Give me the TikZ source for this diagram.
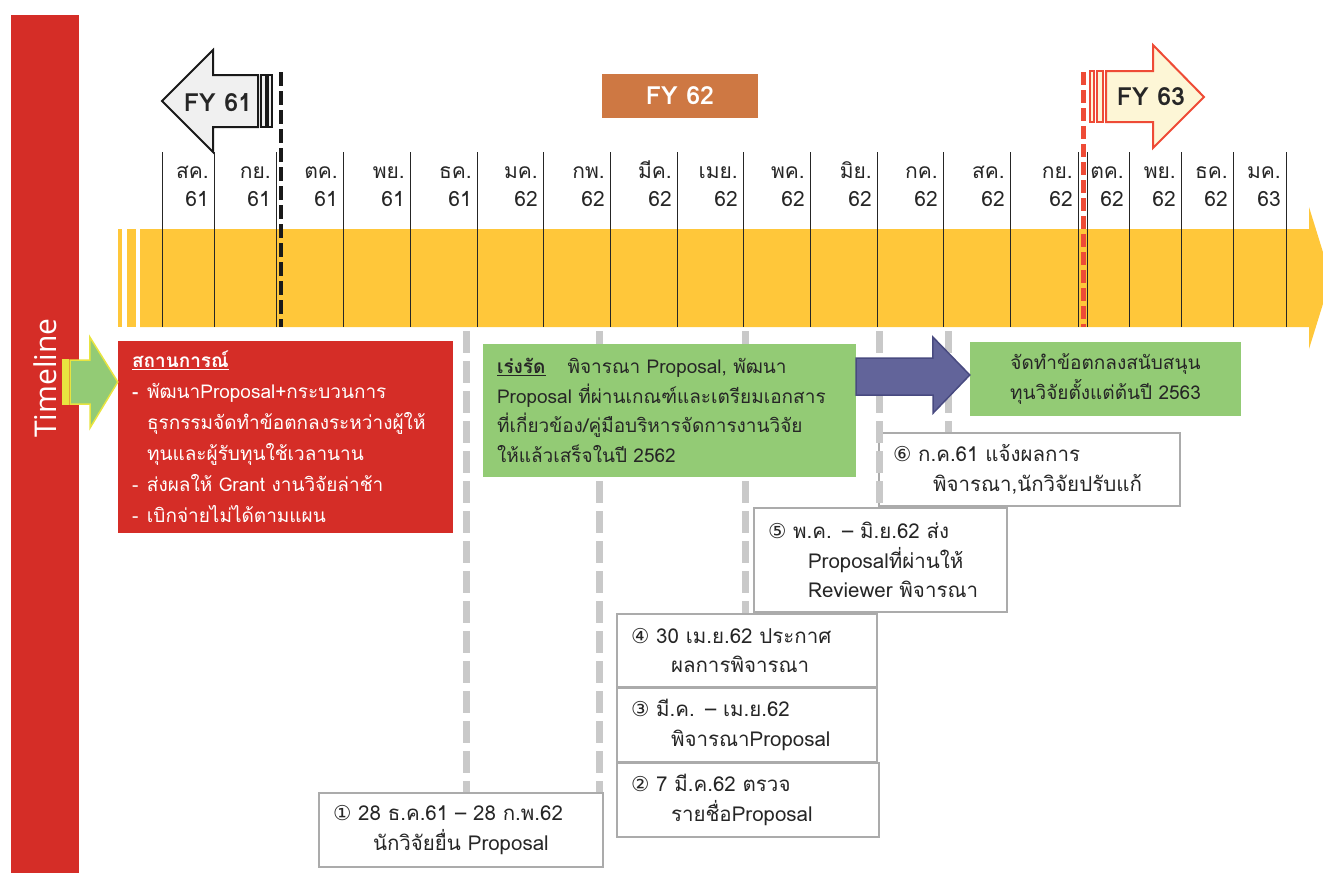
\documentclass[tikz,border=0pt]{standalone}
\usepackage{fontspec}
\usepackage{xcolor}
\usepackage{tikz}
\setmainfont[Script=Thai]{Loma}
\newfontfamily\cnumfont{DejaVu Sans}
\newfontfamily\tlfont{Open Sans}
\definecolor{sidered}{RGB}{213,45,39}
\definecolor{bandyellow}{RGB}{255,199,58}
\definecolor{leafgreen}{RGB}{147,203,117}
\definecolor{fyorange}{RGB}{206,120,67}
\definecolor{arrowblue}{RGB}{98,100,154}
\definecolor{arrowedge}{RGB}{72,74,128}
\definecolor{dashgray}{RGB}{201,201,201}
\definecolor{boxgray}{RGB}{171,171,171}
\definecolor{inkgray}{RGB}{38,38,38}
\definecolor{fyred}{RGB}{238,75,54}
\definecolor{fycream}{RGB}{253,246,214}
\definecolor{fylight}{RGB}{240,240,240}
\definecolor{tipyellow}{RGB}{232,228,64}

\begin{document}
\begin{tikzpicture}[x=1pt, y=-1pt,
  every node/.style={font=\fontsize{19}{29.5}\selectfont, text=inkgray},
  numbox/.style={draw=boxgray, line width=1.3pt, fill=white, align=left, inner xsep=14pt, minimum height=74pt,
                 font=\fontsize{20.5}{29.5}\selectfont},
  greenbox/.style={fill=leafgreen, inner xsep=14pt},
  gdash/.style={draw=dashgray, line width=7pt, dash pattern=on 22pt off 8pt},
  fylabel/.style={font=\bfseries\fontsize{25}{25}\selectfont}]
  \useasboundingbox (0,0) rectangle (1323,873);

  % Timeline side bar
  \fill[sidered] (11,15) rectangle (79,873);
  \node[rotate=90, text=white, font=\tlfont\fontsize{30}{30}\selectfont] (tl) at (45,378) {Timeline};

  % Yellow time band
  \fill[bandyellow] (118,229) rectangle (122,327);
  \fill[bandyellow] (127,229) rectangle (136,327);
  \fill[bandyellow] (140,229) -- (1309,229) -- (1309,207) -- (1331,278) -- (1309,349) -- (1309,327) -- (140,327) -- cycle;

  % Months
  \foreach \mx in {162,214,276,343,410,477,543,610,677,743,810,877,943,1010,1078,1087,1129,1181,1233,1286}
    \draw[black!85, line width=0.9pt] (\mx,152) -- (\mx,327);
  \foreach \mx/\mn/\yr [count=\i] in {214/สค./61, 276/กย./61, 343/ตค./61, 410/พย./61, 477/ธค./61,
      543/มค./62, 610/กพ./62, 677/มีค./62, 743/เมย./62, 810/พค./62, 877/มิย./62, 943/กค./62,
      1010/สค./62, 1078/กย./62, 1129/ตค./62, 1181/พย./62, 1233/ธค./62, 1286/มค./63} {
    \node[anchor=base east, inner sep=0pt, font=\fontsize{21}{21}\selectfont] (mn\i) at (\mx-5,178) {\mn};
    \node[anchor=base east, inner sep=0pt, font=\fontsize{21}{21}\selectfont] (yr\i) at (\mx-5,206) {\yr};
  }

  % Fiscal year marks
  \draw[black!90, line width=4pt, dash pattern=on 14pt off 5pt] (281,72) -- (281,327);
  \draw[fyred, line width=5pt, dash pattern=on 13pt off 5pt] (1083,72) -- (1083,327);

  \draw[fill=fylight, draw=black!90, line width=2pt] (162,101) -- (213,50) -- (213,75) -- (258,75) -- (258,127) -- (213,127) -- (213,152) -- cycle;
  \draw[fill=fylight, draw=black!90, line width=1.5pt] (261,75) rectangle (266,127);
  \draw[fill=fylight, draw=black!90, line width=1.5pt] (268,75) rectangle (272,127);
  \node[fylabel] (fy61) at (218,103) {FY 61};

  \node[fylabel, fill=fyorange, text=white, minimum width=156pt, minimum height=44pt] (fy62) at (680,96) {FY 62};

  \draw[fill=fycream, draw=fyred, line width=2pt] (1090,71) rectangle (1094,122);
  \draw[fill=fycream, draw=fyred, line width=2pt] (1097,71) rectangle (1103,122);
  \draw[fill=fycream, draw=fyred, line width=2pt] (1106,71) -- (1153,71) -- (1153,45) -- (1204,97) -- (1153,148) -- (1153,122) -- (1106,122) -- cycle;
  \node[fylabel] (fy63) at (1151,97) {FY 63};

  % Step boxes
  \node[numbox, text width=256pt] (b1) at (461,830) {{\cnumfont ①} 28 ธ.ค.61 – 28 ก.พ.62\\\hspace*{40pt}นักวิจัยยื่น Proposal};
  \node[numbox, text width=234pt] (b2) at (748,800) {{\cnumfont ②} 7 มี.ค.62 ตรวจ\\\hspace*{40pt}รายชื่อProposal};
  \node[numbox, text width=232pt] (b3) at (747,725) {{\cnumfont ③} มี.ค. – เม.ย.62\\\hspace*{40pt}พิจารณาProposal};
  \node[numbox, text width=232pt, minimum height=73pt] (b4) at (747,650.5) {{\cnumfont ④} 30 เม.ย.62 ประกาศ\\\hspace*{40pt}ผลการพิจารณา};
  \node[numbox, text width=225pt, minimum height=104pt] (b5) at (880.5,560) {{\cnumfont ⑤} พ.ค. – มิ.ย.62 ส่ง\\\hspace*{40pt}Proposalที่ผ่านให้\\\hspace*{40pt}Reviewer พิจารณา};
  \node[numbox, text width=273pt, minimum height=73pt] (b6) at (1029.5,469.5) {{\cnumfont ⑥} ก.ค.61 แจ้งผลการ\\\hspace*{40pt}พิจารณา,นักวิจัยปรับแก้};

  % Dashed guides from the band down to the steps
  \coordinate (d1) at (466,331);
  \coordinate (d2) at (599,331);
  \coordinate (d3) at (745,331);
  \coordinate (d4) at (879,331);
  \coordinate (d5) at (948,331);
  \draw[gdash] (d1) -- (d1 |- b1.north);
  \draw[gdash] (d2) -- (d2 |- b1.north);
  \draw[gdash] (d3) -- (d3 |- b4.north);
  \draw[gdash] (d4) -- (d4 |- b5.north);
  \draw[gdash] (d5) -- (d5 |- b6.north);

  % Situation
  \node[fill=sidered, text=white, align=left, inner xsep=14pt, text width=307pt, minimum height=192pt,
        font=\fontsize{19}{31}\selectfont] (sit) at (285.5,437)
    {\underline{\textbf{สถานการณ์}}\\
     \makebox[15pt][l]{\textbf{-}}พัฒนาProposal+กระบวนการ\\
     \hspace*{15pt}ธุรกรรมจัดทำข้อตกลงระหว่างผู้ให้\\
     \hspace*{15pt}ทุนและผู้รับทุนใช้เวลานาน\\
     \makebox[15pt][l]{-}ส่งผลให้ Grant งานวิจัยล่าช้า\\
     \makebox[15pt][l]{-}เบิกจ่ายไม่ได้ตามแผน};
  \draw[fill=tipyellow, draw=tipyellow, line width=1.5pt] (63,360) rectangle (68,404);
  \draw[fill=leafgreen, draw=tipyellow, line width=1.5pt] (sit.west |- 0,382) -- ++(-28,-45) -- ++(0,23) -- (70,360) -- (70,404) -- (90,404) -- (90,428) -- cycle;

  % Speed-up box and result
  \node[greenbox, align=left, text width=345pt, minimum height=133pt] (ga) at (669.5,410.5)
    {\underline{\textbf{เร่งรัด}}\hspace{22pt}พิจารณา Proposal, พัฒนา\\Proposal ที่ผ่านเกณฑ์และเตรียมเอกสาร\\ที่เกี่ยวข้อง/คู่มือบริหารจัดการงานวิจัย\\ให้แล้วเสร็จในปี 2562};
  \node[greenbox, align=center, minimum width=271pt, minimum height=74pt] (gb) at (1105.5,379)
    {จัดทำข้อตกลงสนับสนุน\\ทุนวิจัยตั้งแต่ต้นปี 2563};
  \draw[fill=arrowblue, draw=arrowedge, line width=1.5pt] ([yshift=4pt]gb.west) -- ++(-37,-38) -- ++(0,21) -- (ga.east |- 0,358) -- (ga.east |- 0,395) -- ++(77,0) -- ++(0,18) -- cycle;

\end{tikzpicture}
\end{document}
